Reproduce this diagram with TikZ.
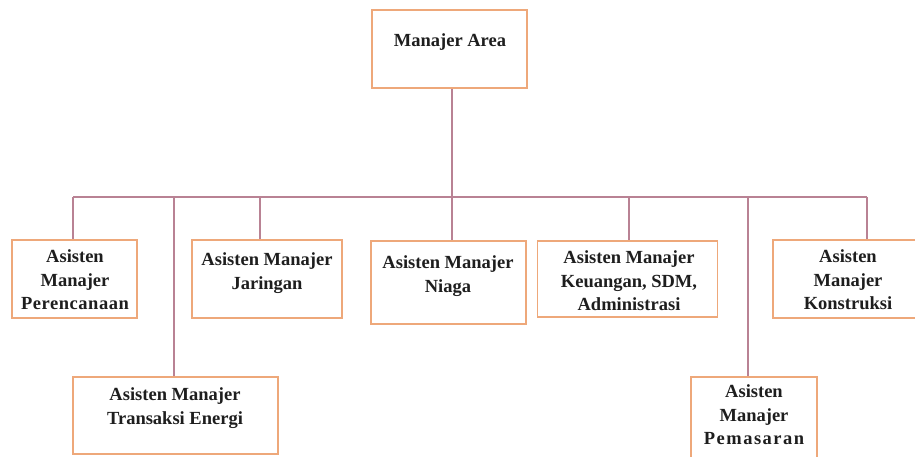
\documentclass[tikz,border=0pt]{standalone}
\usepackage{fontspec}
\setmainfont{Liberation Serif}
\definecolor{boxc}{RGB}{238,168,122}
\definecolor{linec}{RGB}{185,130,148}
\definecolor{txtc}{RGB}{30,30,30}
\begin{document}
\begin{tikzpicture}[x=1pt,y=-1pt,
  orgbox/.style={draw=boxc,line width=1.7pt,fill=white,rectangle,inner sep=0pt},
  orgtxt/.style={align=center,font=\fontsize{18.5}{23.5}\selectfont\bfseries,text=txtc,inner sep=0pt},
  conn/.style={draw=linec,line width=1.2pt}]
\useasboundingbox (0,0) rectangle (915,456);
\fill[white] (0,0) rectangle (915,456);
% boxes
\node[orgbox,minimum width=155pt,minimum height=78pt] (ma) at (449.5,49) {};
\node[orgbox,minimum width=125pt,minimum height=78pt] (per) at (74.5,279) {};
\node[orgbox,minimum width=150pt,minimum height=78pt] (jar) at (267,279) {};
\node[orgbox,minimum width=155pt,minimum height=83pt] (nia) at (448.5,282.5) {};
\node[orgbox,minimum width=180pt,minimum height=76pt] (keu) at (627.5,279) {};
\node[orgbox,minimum width=143pt,minimum height=78pt] (kon) at (844.5,279) {};
\node[orgbox,minimum width=205pt,minimum height=77pt] (tra) at (175.5,415.5) {};
\node[orgbox,minimum width=126pt,minimum height=84pt] (pem) at (754,419) {};
% texts
\node[orgtxt] (tma) at (450,42) {Manajer Area};
\node[orgtxt] (tper) at (75,280) {Asisten\\Manajer\\{\addfontfeature{LetterSpace=3}Perencanaan}};
\node[orgtxt] (tjar) at (267,273) {Asisten Manajer\\Jaringan};
\node[orgtxt] (tnia) at (448,276) {Asisten Manajer\\Niaga};
\node[orgtxt] (tkeu) at (629,281) {Asisten Manajer\\Keuangan, SDM,\\Administrasi};
\node[orgtxt] (tkon) at (848,280) {Asisten\\Manajer\\Konstruksi};
\node[orgtxt] (ttra) at (175,408) {Asisten Manajer\\Transaksi Energi};
\node[orgtxt] (tpem) at (754,415) {Asisten\\Manajer\\{\addfontfeature{LetterSpace=8}Pemasaran}};
% bus coordinates
\coordinate (cPer) at (73,197);
\coordinate (cTra) at (174,197);
\coordinate (cJar) at (260,197);
\coordinate (cNia) at (452,197);
\coordinate (cKeu) at (629,197);
\coordinate (cPem) at (748,197);
\coordinate (cKon) at (867,197);
% connectors
\draw[conn] (cPer) -- (cKon);
\draw[conn] (ma.south -| cNia) -- (cNia |- nia.north);
\draw[conn] (cPer) -- (cPer |- per.north);
\draw[conn] (cTra) -- (cTra |- tra.north);
\draw[conn] (cJar) -- (cJar |- jar.north);
\draw[conn] (cKeu) -- (cKeu |- keu.north);
\draw[conn] (cPem) -- (cPem |- pem.north);
\draw[conn] (cKon) -- (cKon |- kon.north);
\end{tikzpicture}
\end{document}
